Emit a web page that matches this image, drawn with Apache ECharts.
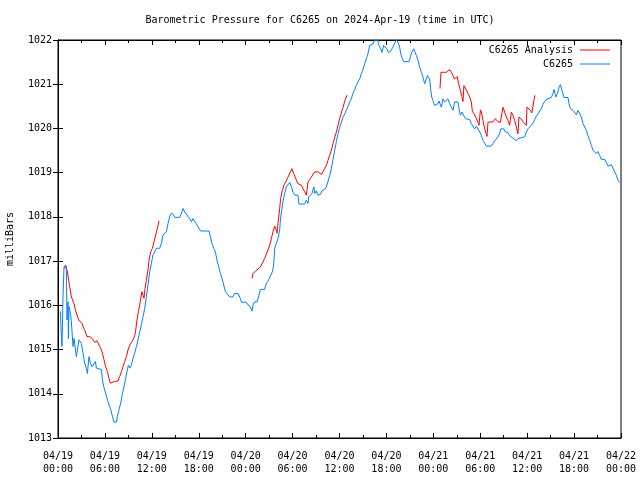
<!DOCTYPE html>
<html><head><meta charset="utf-8">
<script src="https://cdn.jsdelivr.net/npm/echarts@6/dist/echarts.min.js"></script>
<style>html,body{margin:0;padding:0;background:#fff}#c{width:640px;height:480px}</style>
</head><body><div id="c"></div>
<script>
const titleText = 'Barometric Pressure for C6265 on 2024-Apr-19 (time in UTC)';
const yAxisName = 'milliBars';
const seriesNames = ['C6265 Analysis', 'C6265'];
const xTickLabels = ['04/19\n00:00','04/19\n06:00','04/19\n12:00','04/19\n18:00','04/20\n00:00','04/20\n06:00','04/20\n12:00','04/20\n18:00','04/21\n00:00','04/21\n06:00','04/21\n12:00','04/21\n18:00','04/22\n00:00'];
// [hours since 04/19 00:00 UTC, pressure mb]
const stationPoints = [[0.31,1015.86],[0.43,1015.29],[0.51,1015.07],[0.64,1016.19],[0.77,1016.87],[1.07,1016.87],[1.15,1015.67],[1.28,1016.08],[1.33,1015.25],[1.41,1015.97],[1.59,1015.82],[1.71,1015.63],[1.92,1015.07],[2.05,1015.25],[2.23,1015.22],[2.35,1014.84],[2.56,1014.84],[2.69,1015.22],[2.99,1015.14],[3.20,1014.92],[3.41,1014.69],[3.63,1014.58],[3.76,1014.46],[3.96,1014.84],[4.14,1014.69],[4.35,1014.61],[4.48,1014.65],[4.60,1014.61],[4.78,1014.73],[4.91,1014.58],[5.12,1014.55],[5.55,1014.55],[5.68,1014.31],[5.88,1014.14],[6.10,1014.01],[6.39,1013.82],[6.70,1013.67],[6.96,1013.49],[7.16,1013.36],[7.47,1013.36],[7.60,1013.49],[7.80,1013.64],[8.02,1013.79],[8.24,1014.01],[8.44,1014.16],[8.66,1014.35],[8.87,1014.54],[9.00,1014.65],[9.17,1014.58],[9.39,1014.65],[9.59,1014.80],[9.81,1014.92],[10.03,1015.07],[10.23,1015.22],[10.45,1015.40],[10.66,1015.56],[10.87,1015.74],[11.09,1015.93],[11.30,1016.19],[11.51,1016.46],[11.73,1016.76],[11.94,1016.95],[12.15,1017.14],[12.37,1017.21],[12.58,1017.29],[13.01,1017.29],[13.22,1017.40],[13.43,1017.59],[13.64,1017.55],[13.86,1017.66],[14.07,1017.85],[14.37,1018.06],[14.63,1018.08],[14.92,1017.99],[15.56,1017.99],[15.78,1018.08],[15.98,1018.19],[16.20,1018.11],[16.50,1018.04],[16.84,1017.96],[17.06,1017.89],[17.26,1017.96],[17.48,1017.93],[17.70,1017.84],[18.03,1017.74],[18.25,1017.68],[19.31,1017.68],[19.49,1017.55],[19.69,1017.40],[19.91,1017.29],[20.13,1017.21],[20.33,1017.02],[20.55,1016.87],[20.77,1016.72],[20.97,1016.61],[21.19,1016.46],[21.41,1016.31],[21.61,1016.27],[21.96,1016.19],[22.38,1016.19],[22.60,1016.27],[23.02,1016.27],[23.32,1016.16],[23.45,1016.07],[24.09,1016.07],[24.30,1016.01],[24.60,1015.97],[24.81,1015.87],[24.94,1016.01],[25.15,1016.08],[25.45,1016.08],[25.70,1016.23],[25.88,1016.36],[26.43,1016.36],[26.65,1016.50],[26.94,1016.57],[27.20,1016.68],[27.42,1016.76],[27.58,1016.91],[27.71,1017.29],[27.93,1017.40],[28.13,1017.51],[28.35,1017.70],[28.44,1017.93],[28.61,1018.15],[28.77,1018.34],[28.99,1018.53],[29.21,1018.68],[29.41,1018.72],[29.63,1018.78],[29.85,1018.68],[30.05,1018.56],[30.27,1018.49],[30.69,1018.49],[30.82,1018.29],[31.55,1018.29],[31.76,1018.38],[31.97,1018.30],[32.06,1018.45],[32.28,1018.49],[32.48,1018.53],[32.61,1018.62],[32.74,1018.68],[32.83,1018.53],[33.04,1018.59],[33.25,1018.49],[33.55,1018.51],[33.76,1018.59],[34.10,1018.62],[34.32,1018.68],[34.53,1018.70],[34.74,1018.93],[34.96,1019.09],[35.17,1019.30],[35.38,1019.50],[35.60,1019.70],[35.81,1019.88],[36.02,1020.03],[36.24,1020.14],[36.45,1020.26],[36.67,1020.33],[36.88,1020.42],[37.08,1020.50],[37.30,1020.60],[37.51,1020.67],[37.72,1020.79],[37.94,1020.88],[38.15,1020.97],[38.36,1021.05],[38.58,1021.12],[38.80,1021.24],[39.00,1021.33],[39.22,1021.46],[39.44,1021.58],[39.64,1021.69],[39.86,1021.88],[40.08,1021.91],[40.28,1021.91],[40.50,1022.00],[40.84,1022.00],[41.05,1021.88],[41.27,1021.80],[41.43,1021.72],[41.65,1021.88],[41.87,1021.91],[42.07,1021.80],[42.25,1021.72],[42.51,1021.74],[42.84,1021.84],[43.06,1021.93],[43.27,1022.00],[43.48,1021.95],[43.70,1021.84],[43.82,1021.69],[44.04,1021.58],[44.21,1021.51],[44.88,1021.51],[45.06,1021.61],[45.23,1021.72],[45.49,1021.80],[45.66,1021.78],[45.83,1021.65],[46.04,1021.54],[46.25,1021.39],[46.47,1021.27],[46.68,1021.16],[46.89,1021.01],[47.11,1021.12],[47.24,1021.20],[47.44,1021.20],[47.53,1021.12],[47.66,1020.88],[47.79,1020.71],[47.95,1020.63],[48.17,1020.52],[48.39,1020.50],[48.59,1020.56],[48.72,1020.62],[49.03,1020.48],[49.23,1020.67],[49.45,1020.60],[49.67,1020.62],[49.87,1020.67],[50.09,1020.56],[50.31,1020.48],[50.51,1020.41],[50.73,1020.60],[51.15,1020.60],[51.28,1020.45],[51.46,1020.30],[51.66,1020.37],[51.88,1020.41],[52.10,1020.22],[52.65,1020.20],[52.86,1020.11],[53.07,1020.07],[53.29,1019.99],[53.50,1020.05],[53.71,1019.99],[53.93,1019.92],[54.14,1019.84],[54.35,1019.73],[54.57,1019.67],[54.78,1019.60],[55.42,1019.60],[55.63,1019.66],[55.84,1019.72],[56.06,1019.73],[56.27,1019.81],[56.48,1019.88],[56.61,1019.99],[56.78,1019.95],[57.00,1019.99],[57.21,1019.92],[57.54,1019.91],[57.76,1019.84],[57.98,1019.81],[58.18,1019.78],[58.40,1019.77],[58.62,1019.72],[58.82,1019.77],[59.04,1019.81],[59.68,1019.81],[59.90,1019.92],[60.10,1019.99],[60.32,1019.95],[60.53,1020.07],[60.74,1020.12],[60.96,1020.20],[61.17,1020.28],[61.38,1020.33],[61.60,1020.37],[61.81,1020.45],[62.02,1020.54],[62.24,1020.61],[62.46,1020.66],[62.66,1020.70],[63.09,1020.70],[63.30,1020.79],[63.43,1020.88],[63.56,1020.79],[63.68,1020.71],[63.86,1020.79],[64.07,1020.93],[64.25,1020.99],[64.45,1020.86],[64.58,1020.79],[64.71,1020.70],[65.22,1020.70],[65.35,1020.56],[65.52,1020.45],[65.86,1020.41],[66.07,1020.37],[66.29,1020.31],[66.50,1020.41],[66.71,1020.40],[66.93,1020.26],[67.14,1020.11],[67.35,1020.07],[67.57,1019.96],[67.77,1019.84],[67.99,1019.73],[68.21,1019.62],[68.41,1019.51],[68.63,1019.48],[68.84,1019.43],[69.05,1019.48],[69.27,1019.39],[69.49,1019.30],[69.91,1019.30],[70.13,1019.23],[70.33,1019.15],[70.55,1019.11],[70.77,1019.18],[70.97,1019.17],[71.19,1019.02],[71.41,1018.94],[71.61,1018.83],[71.83,1018.78]];
const analysisSeg1 = [[0.86,1016.83],[0.98,1016.91],[1.07,1016.93],[1.20,1016.76],[1.37,1016.57],[1.50,1016.42],[1.71,1016.19],[1.92,1016.19],[2.05,1016.04],[2.23,1015.89],[2.43,1015.78],[2.65,1015.67],[2.77,1015.63],[2.86,1015.71],[3.07,1015.59],[3.29,1015.48],[3.50,1015.40],[3.71,1015.29],[3.93,1015.33],[4.14,1015.29],[4.48,1015.22],[4.69,1015.16],[4.99,1015.20],[5.24,1015.10],[5.46,1015.03],[5.68,1014.92],[5.88,1014.77],[6.10,1014.61],[6.32,1014.50],[6.52,1014.35],[6.70,1014.24],[6.83,1014.28],[7.25,1014.28],[7.67,1014.29],[7.89,1014.39],[8.11,1014.50],[8.31,1014.61],[8.53,1014.73],[8.75,1014.84],[8.95,1014.99],[9.17,1015.10],[9.39,1015.16],[9.59,1015.22],[9.81,1015.31],[9.94,1015.44],[10.10,1015.67],[10.28,1015.86],[10.45,1016.01],[10.58,1016.16],[10.74,1016.31],[10.87,1016.23],[11.00,1016.16],[11.13,1016.38],[11.30,1016.57],[11.51,1016.80],[11.64,1017.02],[11.85,1017.21],[12.07,1017.29],[12.28,1017.44],[12.49,1017.59],[12.66,1017.70],[12.92,1017.91]];
const analysisSeg2 = [[24.81,1016.61],[24.94,1016.72],[25.24,1016.77],[25.58,1016.82],[25.88,1016.87],[26.21,1016.98],[26.43,1017.06],[26.65,1017.16],[26.85,1017.25],[27.07,1017.36],[27.29,1017.51],[27.49,1017.66],[27.71,1017.79],[27.93,1017.70],[28.01,1017.63],[28.13,1017.85],[28.35,1018.19],[28.48,1018.42],[28.70,1018.60],[28.90,1018.72],[29.12,1018.79],[29.41,1018.90],[29.72,1019.02],[29.92,1019.09],[30.14,1018.98],[30.49,1018.83],[30.69,1018.75],[30.91,1018.79],[31.13,1018.72],[31.33,1018.64],[31.55,1018.57],[31.76,1018.49],[31.84,1018.60],[31.97,1018.79],[32.19,1018.83],[32.40,1018.90],[32.61,1018.94],[32.83,1019.02],[33.04,1019.05],[33.25,1019.02],[33.46,1018.98],[33.68,1018.96],[33.89,1019.02],[34.10,1019.09],[34.32,1019.17],[34.53,1019.28],[34.74,1019.39],[34.96,1019.51],[35.17,1019.66],[35.60,1019.92],[36.02,1020.22],[36.45,1020.48],[36.76,1020.67],[36.96,1020.75]];
const analysisSeg3 = [[48.85,1020.90],[48.98,1021.27],[49.23,1021.27],[49.67,1021.27],[49.87,1021.31],[50.09,1021.33],[50.31,1021.27],[50.51,1021.20],[50.69,1021.12],[50.86,1021.10],[51.05,1021.17],[51.24,1021.01],[51.46,1020.86],[51.66,1020.72],[51.79,1020.61],[51.91,1020.97],[52.23,1020.87],[52.43,1020.79],[52.65,1020.71],[52.86,1020.60],[52.99,1020.39],[53.20,1020.33],[53.46,1020.24],[53.71,1020.14],[53.84,1020.07],[54.02,1020.42],[54.18,1020.35],[54.35,1020.18],[54.57,1019.99],[54.69,1019.92],[54.86,1019.82],[54.99,1020.14],[55.20,1020.15],[55.63,1020.15],[55.93,1020.22],[56.27,1020.15],[56.57,1020.14],[56.74,1020.10],[56.91,1020.48],[57.12,1020.37],[57.34,1020.26],[57.54,1020.18],[57.76,1020.07],[57.98,1020.37],[58.18,1020.30],[58.40,1020.18],[58.62,1020.03],[58.82,1019.88],[58.95,1020.26],[59.26,1020.21],[59.46,1020.15],[59.68,1020.11],[59.90,1020.07],[59.97,1020.48],[60.41,1020.41],[60.61,1020.35],[60.87,1020.65],[61.00,1020.75]];

const gap = ['-', '-'];
const analysisData = [].concat(analysisSeg1, [gap], analysisSeg2, [gap], analysisSeg3);
const font = 'DejaVu Sans Mono';
const chart = echarts.init(document.getElementById('c'), null, {renderer: 'canvas'});
const mirrorAxis = {show: true, lineStyle: {color: '#000', width: 1}};
chart.setOption({
  animation: false,
  backgroundColor: '#fff',
  textStyle: {fontFamily: font, color: '#000'},
  title: {text: titleText, left: 'center', top: 12, padding: [3, 5], textStyle: {fontFamily: font, fontSize: 10, fontWeight: 'normal', color: '#000'}},
  legend: {
    data: seriesNames, orient: 'vertical', align: 'right', right: 30, top: 45, padding: 0,
    itemWidth: 30, itemHeight: 1, itemGap: 4, icon: 'rect',
    textStyle: {fontFamily: font, fontSize: 10, color: '#000', padding: [0, 2, 0, 0]}
  },
  grid: {left: 58, right: 19, top: 40, bottom: 42, show: true, borderColor: '#000', borderWidth: 1, containLabel: false, outerBoundsMode: 'none'},
  xAxis: [{
    type: 'value', min: 0, max: 72, interval: 6,
    axisLine: {show: true, onZero: false, lineStyle: {color: '#000'}},
    axisTick: {show: true, inside: true, length: 5, lineStyle: {color: '#000'}},
    minorTick: {show: true, splitNumber: 2, length: 3, lineStyle: {color: '#000'}},
    splitLine: {show: false},
    axisLabel: {fontFamily: font, fontSize: 10, color: '#000', margin: 12, lineHeight: 13,
      formatter: v => xTickLabels[Math.round(v / 6)]}
  }, {
    type: 'value', position: 'top', min: 0, max: 72, interval: 6,
    axisLine: mirrorAxis,
    axisTick: {show: true, inside: true, length: 5, lineStyle: {color: '#000'}},
    minorTick: {show: true, splitNumber: 2, length: 3, lineStyle: {color: '#000'}},
    splitLine: {show: false}, axisLabel: {show: false}
  }],
  yAxis: [{
    type: 'value', min: 1013, max: 1022, interval: 1,
    name: yAxisName, nameLocation: 'middle', nameGap: 43, nameRotate: 90,
    nameTextStyle: {fontFamily: font, fontSize: 10, color: '#000'},
    axisLine: {show: true, lineStyle: {color: '#000'}},
    axisTick: {show: true, inside: true, length: 5, lineStyle: {color: '#000'}},
    splitLine: {show: false},
    axisLabel: {fontFamily: font, fontSize: 10, color: '#000', margin: 6, formatter: v => String(v)}
  }, {
    type: 'value', position: 'right', min: 1013, max: 1022, interval: 1,
    axisLine: mirrorAxis,
    axisTick: {show: true, inside: true, length: 5, lineStyle: {color: '#000'}},
    splitLine: {show: false}, axisLabel: {show: false}
  }],
  series: [{
    name: seriesNames[0], type: 'line', data: analysisData, showSymbol: false, symbol: 'none',
    connectNulls: false, lineStyle: {color: '#ff0000', width: 1}, itemStyle: {color: '#ff0000'}, z: 2
  }, {
    name: seriesNames[1], type: 'line', data: stationPoints, showSymbol: false, symbol: 'none',
    lineStyle: {color: '#0080ff', width: 1}, itemStyle: {color: '#0080ff'}, z: 3
  }]
});
</script>
</body></html>
